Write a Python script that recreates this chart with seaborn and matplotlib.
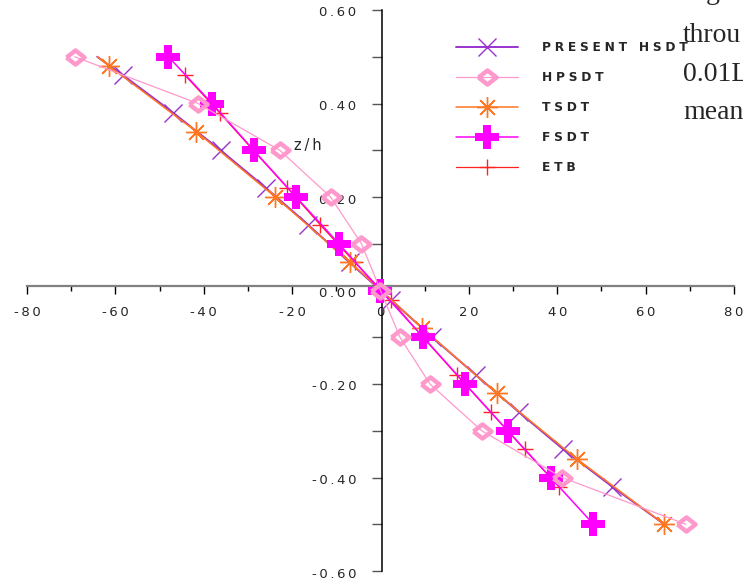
import numpy as np
import pandas as pd
import matplotlib
matplotlib.use("Agg")
import matplotlib.pyplot as plt
import matplotlib.transforms as mtransforms
import seaborn as sns
from matplotlib.ticker import FixedLocator, FixedFormatter

# ---- data (x = value, z/h = thickness coordinate) ----
hsdt_z = [0.50, 0.46, 0.38, 0.30, 0.22, 0.14, 0.06, -0.02, -0.10, -0.18, -0.26, -0.34, -0.42, -0.50]
hsdt_x = [-64.1, -58.2, -46.9, -36.2, -26.0, -16.3, -7.0, 2.4, 11.7, 21.5, 31.3, 41.4, 52.5, 64.2]

hpsdt_z = [0.5, 0.4, 0.3, 0.2, 0.1, 0.0, -0.1, -0.2, -0.3, -0.4, -0.5]
hpsdt_x = [-69.2, -41.3, -22.8, -11.3, -4.3, 0.0, 4.4, 11.2, 22.9, 41.1, 69.1]

tsdt_z = [0.50, 0.48, 0.34, 0.20, 0.06, -0.08, -0.22, -0.36, -0.50]
tsdt_x = [-64.1, -61.4, -41.7, -23.8, -6.8, 9.4, 26.3, 44.4, 64.2]

fsdt_z = [0.5, 0.4, 0.3, 0.2, 0.1, 0.0, -0.1, -0.2, -0.3, -0.4, -0.5]
fsdt_x = [-48.0, -38.1, -28.7, -19.1, -9.4, 0.0, 9.7, 19.2, 28.8, 38.5, 48.2]

etb_z = [0.46, 0.38, 0.30, 0.22, 0.14, 0.06, -0.02, -0.10, -0.18, -0.26, -0.34, -0.42]
etb_x = [-44.2, -36.4, -28.8, -21.1, -13.6, -5.8, 2.3, 9.6, 17.2, 24.9, 32.6, 40.4]

series_names = ["PRESENT HSDT", "HPSDT", "TSDT", "FSDT", "ETB"]

x_ticks = [-80, -60, -40, -20, 0, 20, 40, 60, 80]
x_tick_labels = ["-80", "-60", "-40", "-20", "0", "20", "40", "60", "80"]
y_ticks = [0.6, 0.4, 0.2, 0.0, -0.2, -0.4, -0.6]
y_tick_labels = ["0.60", "0.40", "0.20", "0.00", "-0.20", "-0.40", "-0.60"]

side_text = ["g.", "throu", "0.01L", "mean"]

# ---- style ----
sns.set_style("white")
plt.rcParams["font.family"] = ["DejaVu Sans"]

def spaced(s, sp="\u2009"):
    return sp.join(s)

fig = plt.figure(figsize=(7.43, 5.80), dpi=100)
ax = fig.add_axes([27 / 743, 9 / 580, 707 / 743, 561 / 580])

diamond = [(-1, 0), (0, 0.78), (1, 0), (0, -0.78), (-1, 0)]

c_hsdt = "#9933CC"
c_hpsdt = "#FF99CC"
c_tsdt = "#FF7722"
c_fsdt = "#FF00FF"
c_etb = "#FF2222"

common = dict(sort=False, estimator=None, ax=ax)

# ETB (line hidden beneath FSDT)
sns.lineplot(x=etb_x, y=etb_z, color=c_etb, lw=0.9, marker="+", markersize=12,
             markeredgewidth=1.0, markeredgecolor=c_etb, zorder=2, **common)
# PRESENT HSDT
sns.lineplot(x=hsdt_x, y=hsdt_z, color=c_hsdt, lw=1.4, marker="x", markersize=13,
             markeredgewidth=1.0, markeredgecolor=c_hsdt,
             markevery=slice(1, len(hsdt_z) - 1), zorder=3, **common)
# TSDT
sns.lineplot(x=tsdt_x, y=tsdt_z, color=c_tsdt, lw=1.1, marker=(8, 2, 0), markersize=15,
             markeredgewidth=1.0, markeredgecolor=c_tsdt,
             markevery=slice(1, len(tsdt_z)), zorder=4, **common)
# FSDT
sns.lineplot(x=fsdt_x, y=fsdt_z, color=c_fsdt, lw=1.1, marker="P", markersize=17,
             markeredgewidth=0, markeredgecolor=c_fsdt, markerfacecolor=c_fsdt,
             zorder=5, **common)
# HPSDT
sns.lineplot(x=hpsdt_x, y=hpsdt_z, color=c_hpsdt, lw=0.9, marker=diamond, markersize=13,
             markeredgewidth=3.2, markerfacecolor="none", markeredgecolor=c_hpsdt,
             zorder=6, **common)

lines = ax.get_lines()
# order of lines: ETB, HSDT, TSDT, FSDT, HPSDT
handles = [lines[1], lines[4], lines[2], lines[3], lines[0]]
leg = fig.legend(handles, [spaced(n, "\u2009\u200a") for n in series_names],
                 loc="upper left", bbox_to_anchor=(456 / 743, 1 - 41 / 580),
                 frameon=False, numpoints=1, handlelength=5.08, handletextpad=1.95,
                 labelspacing=1.4, borderpad=0, borderaxespad=0,
                 prop={"family": "DejaVu Sans", "weight": "bold", "size": 8.8})

# ---- axes ----
ax.set_xlim(-80, 80)
ax.set_ylim(-0.6, 0.6)
for s in ["top", "right"]:
    ax.spines[s].set_visible(False)
ax.spines["left"].set_position(("data", 0.3))
ax.spines["bottom"].set_position(("data", 0.009))
ax.spines["left"].set_color("black")
ax.spines["bottom"].set_color("#808080")
ax.spines["left"].set_linewidth(1.1)
ax.spines["bottom"].set_linewidth(1.6)

ax.xaxis.set_major_locator(FixedLocator(x_ticks))
ax.xaxis.set_major_formatter(FixedFormatter([spaced(t) for t in x_tick_labels]))
ax.xaxis.set_minor_locator(FixedLocator([-70, -50, -30, -10, 10, 30, 50, 70]))
ax.yaxis.set_major_locator(FixedLocator(y_ticks))
ax.yaxis.set_major_formatter(FixedFormatter([spaced(t) for t in y_tick_labels]))
ax.yaxis.set_minor_locator(FixedLocator([0.5, 0.3, 0.1, -0.1, -0.3, -0.5]))

ax.tick_params(axis="x", which="major", direction="out", length=6, width=1.0,
               color="black", pad=8, labelsize=9.5, bottom=True)
ax.tick_params(axis="x", which="minor", direction="out", length=3.5, width=1.0,
               color="black", bottom=True)
ax.tick_params(axis="y", which="major", direction="out", length=7.5, width=1.0,
               color="#555555", pad=11, labelsize=9.5, left=True)
ax.tick_params(axis="y", which="minor", direction="out", length=7.5, width=1.0,
               color="#555555", left=True)
ax.grid(False)
ax.patch.set_alpha(0)

# y tick labels sit slightly below their ticks
offset = mtransforms.ScaledTranslation(0, -1.5 / 100, fig.dpi_scale_trans)
for lab in ax.get_yticklabels():
    lab.set_transform(lab.get_transform() + offset)

ax.text(-16.5, 0.31, spaced("z/h"), fontsize=10.5, ha="center", va="center")

# ---- cropped document text at top right ----
serif = {"family": "Liberation Serif", "size": 20}
fig.text(706 / 743, 1 + 1 / 580, side_text[0], ha="left", va="baseline", fontdict=serif)
fig.text(683 / 743, 1 - 42 / 580, side_text[1], ha="left", va="baseline", fontdict=serif)
fig.text(683 / 743, 1 - 81 / 580, side_text[2], ha="left", va="baseline", fontdict=serif)
fig.text(683 / 743, 1 - 119 / 580, side_text[3], ha="left", va="baseline", fontdict=serif)

fig.savefig("out.png", dpi=100)
